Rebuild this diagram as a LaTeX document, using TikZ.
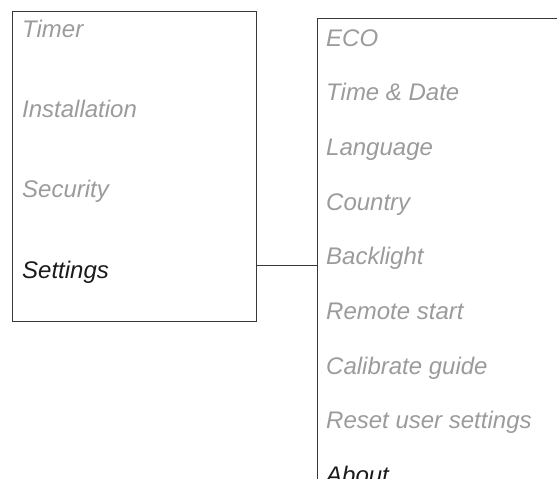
\documentclass[tikz,border=0pt]{standalone}
\usepackage{fontspec}
\setmainfont{Liberation Sans}
\usepackage{tikz}
\usetikzlibrary{positioning}
\definecolor{ItemGray}{HTML}{9B9B9B}
\definecolor{ItemDark}{HTML}{1A1A1A}
\definecolor{FrameGray}{HTML}{383838}

\begin{document}
\begin{tikzpicture}[
x=1pt,y=-1pt,
frame/.style={draw=FrameGray,line width=1.1pt,inner sep=0pt,anchor=north west},
item/.style={anchor=base west,inner sep=0pt,text=ItemGray,font=\itshape\fontsize{24}{29}\selectfont},
current/.style={item,text=ItemDark},
link/.style={draw=FrameGray,line width=1pt}
]
\useasboundingbox (0,0) rectangle (557,479);
\clip (0,0) rectangle (557,479);
% main menu
\node[frame,minimum width=244pt,minimum height=310pt] (menu) at (12,11) {};
\node[item] (timer) at (22,37) {Timer};
\node[item] (install) at (22,117.5) {Installation};
\node[item] (security) at (22,197.5) {Security};
\node[current] (settings) at (22,278) {Settings};
% settings submenu (runs off the page)
\node[frame,minimum width=300pt,minimum height=520pt] (sub) at (317,18) {};
\node[item] (eco) at (326,46.5) {ECO};
\node[item] (timedate) at (326,100.5) {Time \& Date};
\node[item] (language) at (326,155) {Language};
\node[item] (country) at (326,210) {Country};
\node[item] (backlight) at (326,264.5) {Backlight};
\node[item] (remote) at (326,319.5) {Remote start};
\node[item] (calibrate) at (326,374) {Calibrate guide};
\node[item] (reset) at (326,428.5) {Reset user settings};
\node[current] (about) at (326,483) {About};
\coordinate (joint) at (0,265);
\draw[link] (menu.east |- joint) -- (sub.west |- joint);
\end{tikzpicture}
\end{document}
